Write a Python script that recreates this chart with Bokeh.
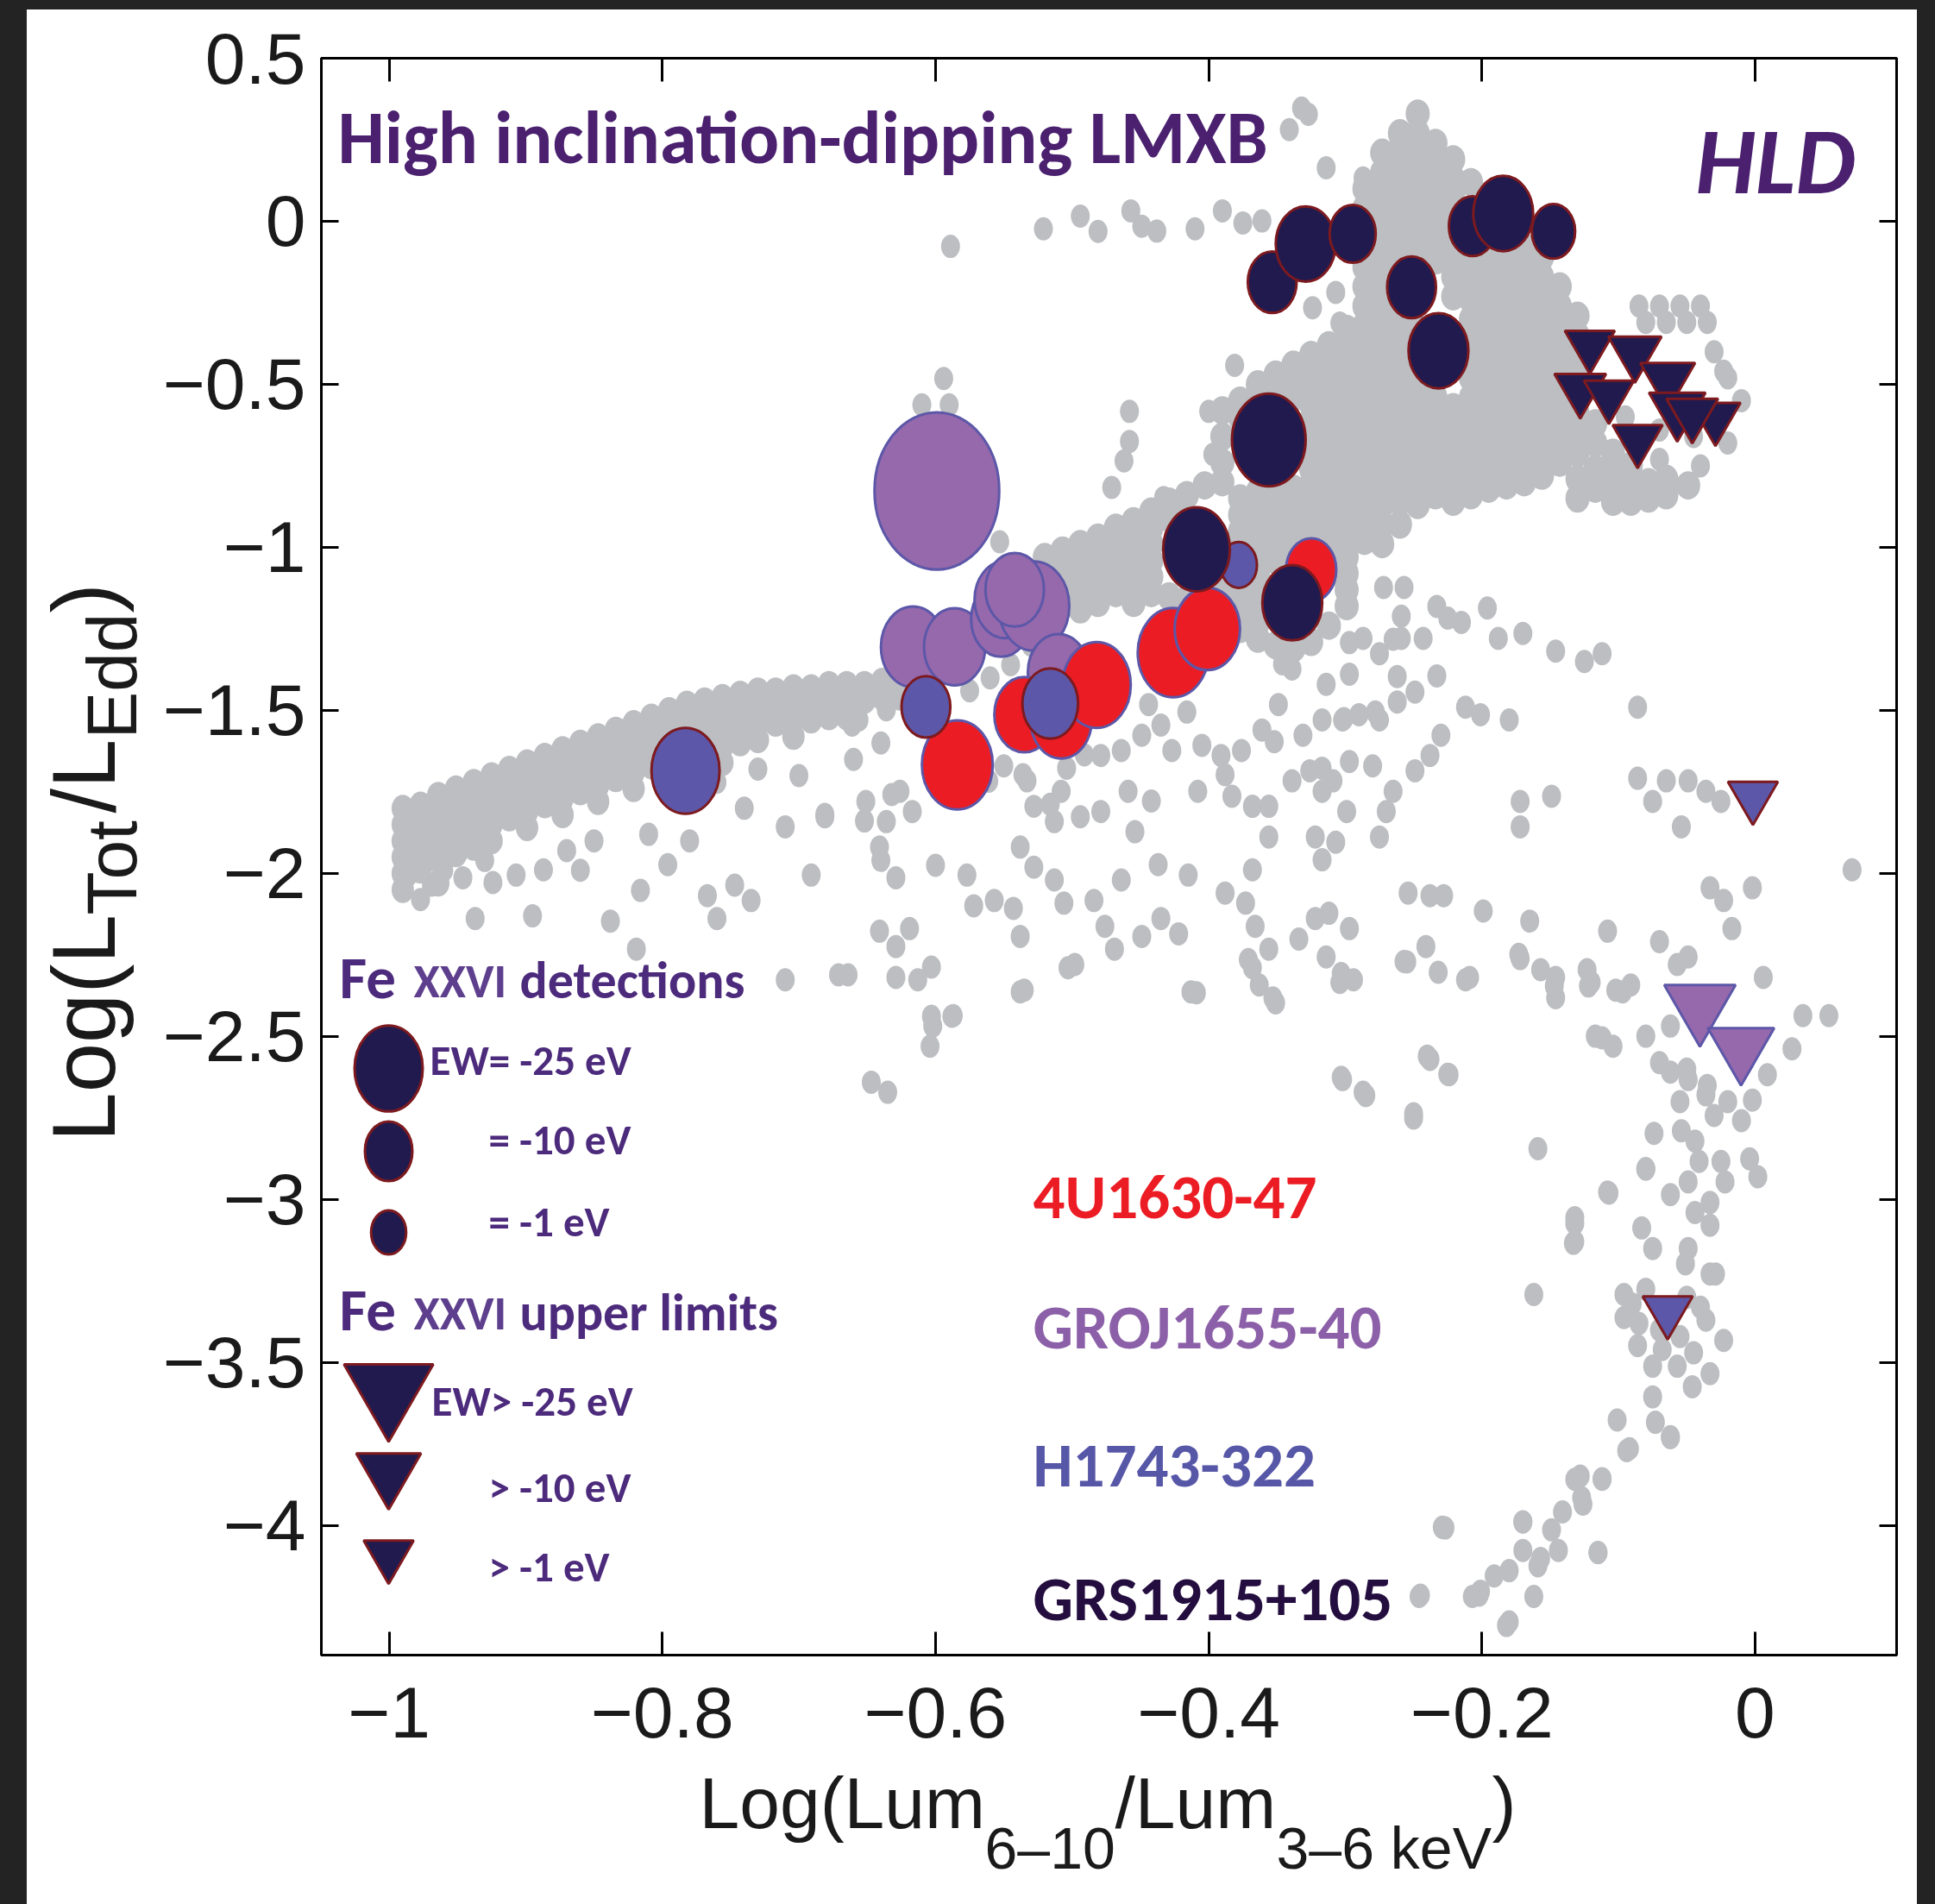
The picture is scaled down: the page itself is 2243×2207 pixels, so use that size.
import math
from bokeh.plotting import figure
from bokeh.models import (Range1d, LinearAxis, FixedTicker, Label, ColumnDataSource,
                          GlobalInlineStyleSheet)
from bokeh.layouts import row, column
from bokeh.embed import file_html
from bokeh.resources import INLINE

# ---------------------------------------------------------------- data
x_ticks = [-1, -0.8, -0.6, -0.4, -0.2, 0]
x_tick_labels = ["\u22121", "\u22120.8", "\u22120.6", "\u22120.4", "\u22120.2", "0"]
y_ticks = [0.5, 0, -0.5, -1, -1.5, -2, -2.5, -3, -3.5, -4]
y_tick_labels = ["0.5", "0", "\u22120.5", "\u22121", "\u22121.5", "\u22122", "\u22122.5",
                 "\u22123", "\u22123.5", "\u22124"]

# Fe XXVI detections (x = Log(Lum6-10/Lum3-6), y = Log(LTot/LEdd), EW in eV)
gro_x = [-0.599, -0.6165, -0.586, -0.552, -0.549, -0.528, -0.542, -0.510]
gro_y = [-0.827, -1.305, -1.305, -1.220, -1.160, -1.180, -1.130, -1.384]
gro_ew = [-66, -22, -20, -19, -20, -27, -18, -20]

u4_x = [-0.584, -0.535, -0.508, -0.482, -0.426, -0.401, -0.325]
u4_y = [-1.667, -1.513, -1.529, -1.422, -1.323, -1.250, -1.069]
u4_ew = [-27, -19, -20, -25, -27, -23, -12]

h17_x = [-0.783, -0.607, -0.516, -0.378]
h17_y = [-1.685, -1.489, -1.479, -1.054]
h17_ew = [-25, -11, -16, -2]

grs_x = [-0.3535, -0.329, -0.2946, -0.2515, -0.2318, -0.2068, -0.1844, -0.1476, -0.356, -0.4089, -0.3388]
grs_y = [-0.1868, -0.0696, -0.0384, -0.2024, -0.397, -0.015, 0.0238, -0.0307, -0.6706, -1.006, -1.170]
grs_ew = [-11, -19, -9, -11, -19, -10, -19, -7, -29, -24, -19]

# Fe XXVI upper limits
grs_ul_x = [-0.121, -0.088, -0.064, -0.128, -0.107, -0.057, -0.029, -0.086, -0.046]
grs_ul_y = [-0.380, -0.401, -0.483, -0.514, -0.533, -0.576, -0.601, -0.669, -0.590]
grs_ul_ew = [-1, -3, -4, -2, -1, -5, -1, -1, -2]

h17_ul_x = [-0.0016, -0.064]
h17_ul_y = [-1.763, -3.341]
h17_ul_ew = [-1, -1]

gro_ul_x = [-0.0404, -0.0103]
gro_ul_y = [-2.405, -2.533]
gro_ul_ew = [-14, -11]

# grey background sample: dense parts as columns (x, [y, ...]), sparse parts as (x, y)
hard_cols = [
    (-0.990, [-1.80, -1.85, -1.90, -1.95, -2.00, -2.05]),
    (-0.977, [-1.79, -1.84, -1.89, -1.94, -1.99]),
    (-0.964, [-1.76, -1.81, -1.86, -1.91, -1.96, -2.03]),
    (-0.951, [-1.74, -1.79, -1.84, -1.89, -1.94]),
    (-0.938, [-1.72, -1.77, -1.82, -1.87, -1.92]),
    (-0.925, [-1.70, -1.75, -1.80, -1.85, -1.90]),
    (-0.912, [-1.68, -1.73, -1.78, -1.83]),
    (-0.899, [-1.66, -1.71, -1.76, -1.81, -1.86]),
    (-0.886, [-1.64, -1.69, -1.74, -1.79]),
    (-0.873, [-1.62, -1.67, -1.72, -1.77, -1.82]),
    (-0.860, [-1.60, -1.65, -1.70, -1.75]),
    (-0.847, [-1.58, -1.63, -1.68, -1.73, -1.78]),
    (-0.834, [-1.56, -1.61, -1.66, -1.71]),
    (-0.821, [-1.54, -1.59, -1.64, -1.69, -1.74]),
    (-0.808, [-1.52, -1.57, -1.62, -1.67]),
    (-0.795, [-1.50, -1.55, -1.60, -1.65, -1.72]),
    (-0.782, [-1.48, -1.53]),
    (-0.769, [-1.47, -1.52, -1.57]),
    (-0.756, [-1.46, -1.51, -1.56, -1.61, -1.66]),
    (-0.743, [-1.45, -1.50, -1.55, -1.60]),
    (-0.730, [-1.44, -1.49, -1.54, -1.59]),
    (-0.717, [-1.44, -1.49, -1.54]),
    (-0.704, [-1.43, -1.48, -1.53, -1.58]),
    (-0.691, [-1.43, -1.48, -1.53]),
    (-0.678, [-1.42, -1.47, -1.52]),
    (-0.665, [-1.42, -1.47, -1.52]),
    (-0.652, [-1.42, -1.47]),
    (-0.639, [-1.41, -1.46]),
    (-0.626, [-1.41, -1.46]),
]

mid_cols = [
    (-0.520, [-1.03, -1.08]),
    (-0.507, [-1.01, -1.06, -1.11, -1.16]),
    (-0.494, [-0.99, -1.04, -1.09, -1.14, -1.19]),
    (-0.481, [-0.97, -1.02, -1.07, -1.12, -1.17]),
    (-0.468, [-0.94, -0.99, -1.04, -1.09, -1.14]),
    (-0.455, [-0.92, -0.97, -1.02, -1.07, -1.12, -1.17]),
    (-0.442, [-0.89, -0.94, -0.99, -1.04, -1.09, -1.14]),
    (-0.429, [-0.86, -0.91, -1.15]),
    (-0.416, [-0.84, -1.16]),
    (-0.403, [-0.81, -1.15, -1.20]),
    (-0.390, [-0.58, -0.66, -0.74, -0.80, -1.13, -1.18, -1.23]),
    (-0.377, [-0.55, -0.60, -0.85, -0.90, -0.95, -1.00, -1.05, -1.10, -1.15, -1.20, -1.25]),
    (-0.364, [-0.50, -0.55, -0.83, -0.88, -0.93, -0.98, -1.03, -1.08, -1.13, -1.18, -1.23, -1.28]),
    (-0.351, [-0.47, -0.52, -0.84, -0.89, -0.94, -0.99, -1.04, -1.30]),
    (-0.338, [-0.44, -0.49, -0.54, -0.82, -0.87, -0.92, -0.97, -1.02, -1.31]),
    (-0.325, [-0.41, -0.46, -0.51, -0.56, -0.61, -0.66, -0.71, -0.76, -0.81, -0.86, -0.91,
              -0.96, -1.01, -1.29]),
    (-0.312, [-0.38, -0.43, -0.48, -0.53, -0.58, -0.63, -0.68, -0.73, -0.78, -0.83, -0.88,
              -0.93, -0.98, -1.03, -1.08, -1.24]),
    (-0.299, [-0.33, -0.38, -0.43, -0.48, -0.53, -0.58, -0.63, -0.68, -0.73, -0.78, -0.83,
              -0.88, -0.93, -0.98, -1.03, -1.08, -1.13, -1.18]),
]

blob_cols = [
    (-0.286, [0.10, 0.04, -0.02, -0.08, -0.14, -0.20, -0.26, -0.32, -0.38, -0.44, -0.50, -0.56,
              -0.62, -0.68, -0.74, -0.80, -0.86, -0.92, -0.98]),
    (-0.273, [0.21, 0.15, 0.09, 0.03, -0.03, -0.09, -0.15, -0.21, -0.27, -0.33, -0.39, -0.45,
              -0.51, -0.57, -0.63, -0.69, -0.75, -0.81, -0.87, -0.93, -0.99]),
    (-0.260, [0.27, 0.22, 0.16, 0.10, 0.04, -0.02, -0.08, -0.14, -0.20, -0.26, -0.32, -0.38,
              -0.44, -0.50, -0.56, -0.62, -0.68, -0.74, -0.80, -0.86, -0.93]),
    (-0.247, [0.33, 0.27, 0.21, 0.15, 0.09, 0.03, -0.03, -0.09, -0.33, -0.39, -0.45, -0.51,
              -0.57, -0.63, -0.69, -0.75, -0.81, -0.87]),
    (-0.234, [0.24, 0.18, 0.12, 0.06, 0.00, -0.06, -0.12, -0.54, -0.60, -0.66, -0.72, -0.78, -0.84]),
    (-0.221, [0.19, 0.13, 0.07, 0.01, -0.05, -0.11, -0.17, -0.23, -0.57, -0.63, -0.69, -0.75,
              -0.81, -0.86]),
    (-0.208, [0.12, -0.12, -0.18, -0.24, -0.30, -0.36, -0.42, -0.48, -0.54, -0.60, -0.66, -0.72,
              -0.78, -0.84]),
    (-0.195, [0.08, -0.10, -0.16, -0.22, -0.28, -0.34, -0.40, -0.46, -0.52, -0.58, -0.64, -0.70,
              -0.76, -0.82]),
    (-0.182, [-0.09, -0.15, -0.21, -0.27, -0.33, -0.39, -0.45, -0.51, -0.57, -0.63, -0.69, -0.75,
              -0.81]),
    (-0.169, [-0.08, -0.14, -0.20, -0.26, -0.32, -0.38, -0.44, -0.50, -0.56, -0.62, -0.68, -0.74,
              -0.80]),
    (-0.156, [-0.11, -0.17, -0.23, -0.29, -0.35, -0.41, -0.47, -0.53, -0.59, -0.65, -0.71, -0.78]),
    (-0.143, [-0.20, -0.26, -0.32, -0.38, -0.44, -0.50, -0.56, -0.62, -0.68, -0.74]),
    (-0.130, [-0.29, -0.35, -0.41, -0.47, -0.53, -0.59, -0.65, -0.71, -0.79, -0.85]),
    (-0.117, [-0.62, -0.68, -0.76, -0.82]),
    (-0.104, [-0.71, -0.77, -0.83, -0.86]),
    (-0.091, [-0.75, -0.81, -0.86]),
    (-0.078, [-0.80, -0.85]),
    (-0.065, [-0.79, -0.84]),
    (-0.049, [-0.81]),
]

gray_sparse = [
    # below the hard band
    (-0.986, -2.005), (-0.969, -2.036), (-0.946, -2.013), (-0.924, -2.028), (-0.907, -2.005),
    (-0.887, -1.989), (-0.937, -2.138), (-0.895, -2.130), (-0.838, -2.146), (-0.816, -2.052),
    (-0.796, -1.973), (-0.767, -2.068), (-0.747, -2.036), (-0.735, -2.083), (-0.760, -2.138),
    (-0.691, -2.005), (-0.710, -2.326), (-0.671, -2.311), (-0.819, -2.232), (-0.960, -1.990),
    (-0.930, -1.960), (-0.870, -1.930), (-0.850, -1.900), (-0.810, -1.880), (-0.780, -1.900),
    (-0.710, -1.857), (-0.681, -1.826), (-0.740, -1.800), (-0.700, -1.700), (-0.660, -1.650),
    (-0.640, -1.600), (-0.860, -1.990), (-0.977, -2.080), (-0.661, -1.545), (-0.632, -1.758),
    (-0.652, -1.839), (-0.681, -1.819), (-0.760, -1.720), (-0.730, -1.680),
    # band edge near the coloured markers
    (-0.600, -1.420), (-0.590, -1.380), (-0.575, -1.440), (-0.560, -1.400), (-0.545, -1.360),
    (-0.530, -1.300), (-0.515, -1.260), (-0.520, -1.120), (-0.508, -1.045), (-0.553, -0.983),
    (-0.540, -1.050),
    # top row and isolated upper points
    (-0.589, -0.077), (-0.521, -0.023), (-0.494, 0.016), (-0.481, -0.031), (-0.457, 0.032),
    (-0.449, -0.015), (-0.438, -0.030), (-0.410, -0.023), (-0.390, 0.032), (-0.361, 0.001),
    (-0.341, 0.281), (-0.327, 0.328), (-0.314, 0.164), (-0.287, 0.133), (-0.332, 0.347),
    (-0.375, -0.005), (-0.594, -0.482), (-0.610, -0.563), (-0.590, -0.563),
    (-0.458, -0.583), (-0.458, -0.675), (-0.462, -0.735), (-0.471, -0.816), (-0.433, -0.847),
    (-0.400, -0.583), (-0.397, -0.715), (-0.381, -0.442), (-0.425, -0.889), (-0.408, -0.952),
    (-0.324, -0.265), (-0.307, -0.218), (-0.304, -0.312),
    (-0.085, -0.26), (-0.070, -0.26), (-0.055, -0.26), (-0.040, -0.26),
    (-0.080, -0.31), (-0.065, -0.31), (-0.050, -0.31), (-0.035, -0.31), (-0.023, -0.46),
    (-0.095, -0.60), (-0.070, -0.64), (-0.045, -0.66), (-0.100, -0.74), (-0.070, -0.73),
    (-0.040, -0.75), (-0.020, -0.68), (-0.020, -0.48), (-0.030, -0.40), (-0.010, -0.55),
    # below the coloured markers
    (-0.656, -1.529), (-0.636, -1.498), (-0.651, -1.779), (-0.636, -1.841), (-0.626, -1.748),
    (-0.617, -1.810), (-0.641, -1.919), (-0.550, -1.670), (-0.533, -1.716), (-0.508, -1.748),
    (-0.528, -1.794), (-0.513, -1.841), (-0.494, -1.826), (-0.479, -1.810), (-0.538, -1.919),
    (-0.459, -1.748), (-0.454, -1.872), (-0.494, -1.560), (-0.479, -1.638), (-0.464, -1.623),
    (-0.449, -1.576), (-0.435, -1.545), (-0.444, -1.482), (-0.427, -1.623), (-0.408, -1.748),
    (-0.405, -1.607), (-0.391, -1.638), (-0.376, -1.623), (-0.361, -1.560), (-0.349, -1.482),
    (-0.346, -1.357), (-0.331, -1.576), (-0.317, -1.529), (-0.302, -1.529), (-0.290, -1.513),
    (-0.297, -1.389), (-0.314, -1.420), (-0.287, -1.279), (-0.383, -1.763), (-0.368, -1.794),
    (-0.356, -1.794), (-0.339, -1.716), (-0.326, -1.685), (-0.317, -1.748), (-0.309, -1.716),
    (-0.299, -1.810), (-0.322, -1.888), (-0.307, -1.904), (-0.356, -1.888),
    (-0.561, -1.717), (-0.536, -1.697), (-0.516, -1.788), (-0.504, -1.677), (-0.491, -1.636),
    (-0.442, -1.778), (-0.416, -1.505), (-0.388, -1.697), (-0.317, -1.677), (-0.297, -1.657),
    (-0.339, -1.373), (-0.297, -1.292), (-0.265, -1.282), (-0.259, -1.211), (-0.233, -1.181),
    (-0.278, -1.505), (-0.262, -1.474), (-0.249, -1.444), (-0.233, -1.394), (-0.352, -1.596),
    (-0.301, -1.525),
    # soft branch on the right
    (-0.272, -1.123), (-0.257, -1.123), (-0.225, -1.217), (-0.215, -1.230), (-0.196, -1.186),
    (-0.259, -1.279), (-0.243, -1.279), (-0.275, -1.326), (-0.262, -1.396), (-0.188, -1.279),
    (-0.170, -1.264), (-0.146, -1.318), (-0.125, -1.350), (-0.112, -1.326), (-0.212, -1.490),
    (-0.201, -1.513), (-0.180, -1.529), (-0.086, -1.490), (-0.275, -1.529), (-0.230, -1.576),
    (-0.238, -1.638), (-0.249, -1.685), (-0.265, -1.748), (-0.270, -1.810), (-0.275, -1.888),
    (-0.280, -1.670), (-0.172, -1.779), (-0.172, -1.857), (-0.149, -1.763), (-0.086, -1.708),
    (-0.075, -1.779), (-0.065, -1.716), (-0.049, -1.716), (-0.036, -1.748), (-0.025, -1.779),
    (-0.054, -1.857),
    (-0.254, -2.060), (-0.238, -2.068), (-0.228, -2.068), (-0.199, -2.115), (-0.165, -2.146),
    (-0.108, -2.177), (-0.070, -2.209), (-0.033, -2.044), (-0.023, -2.083), (-0.002, -2.044),
    (-0.017, -2.169), (0.071, -1.989), (-0.241, -2.224), (-0.255, -2.271), (-0.232, -2.303),
    (-0.209, -2.319), (-0.173, -2.248), (-0.157, -2.295), (-0.146, -2.319), (-0.146, -2.381),
    (-0.123, -2.295), (-0.120, -2.334), (-0.102, -2.358), (-0.091, -2.342), (-0.049, -2.256),
    (-0.057, -2.279), (0.006, -2.319), (0.035, -2.436), (0.054, -2.436), (0.027, -2.538),
    (-0.117, -2.499), (-0.104, -2.530), (-0.080, -2.499), (-0.062, -2.468), (-0.238, -2.570),
    (-0.224, -2.617), (-0.250, -2.750), (-0.062, -2.609), (-0.049, -2.632), (-0.036, -2.679),
    (-0.030, -2.742), (0.009, -2.617), (-0.002, -2.695), (-0.010, -2.758), (-0.074, -2.797),
    (-0.054, -2.789), (-0.044, -2.821), (-0.041, -2.883), (-0.049, -2.946), (-0.062, -2.985),
    (-0.080, -2.907), (-0.025, -2.883), (-0.004, -2.875), (0.002, -2.930), (-0.022, -2.946),
    (-0.033, -3.009), (-0.159, -2.844), (-0.108, -2.977), (-0.132, -3.056), (-0.133, -3.134),
    (-0.044, -3.040), (-0.033, -3.079), (-0.083, -3.087), (-0.075, -3.150), (-0.049, -3.150),
    (-0.033, -3.228), (-0.096, -3.291), (-0.096, -3.362), (-0.086, -3.448), (-0.075, -3.511),
    (-0.075, -3.605), (-0.073, -3.683), (-0.062, -3.730), (-0.057, -3.511), (-0.046, -3.574),
    (-0.033, -3.534), (-0.036, -3.370), (-0.023, -3.432), (-0.029, -3.228), (-0.051, -3.197),
    (-0.080, -3.275), (-0.162, -3.291), (-0.101, -3.676), (-0.094, -3.770), (-0.128, -3.848),
    (-0.112, -3.856), (-0.126, -3.934), (-0.141, -3.958), (-0.149, -4.013), (-0.144, -4.076),
    (-0.170, -3.989), (-0.170, -4.076), (-0.159, -4.123), (-0.180, -4.138), (-0.191, -4.154),
    (-0.201, -4.201), (-0.162, -4.217), (-0.180, -4.295), (-0.115, -4.083), (-0.229, -4.005),
    (-0.246, -4.217), (-0.207, -4.217),
    (-0.303, -2.307), (-0.257, -2.270), (-0.212, -2.326), (-0.285, -2.681), (-0.303, -2.625),
    (-0.240, -2.560), (-0.225, -2.616), (-0.250, -2.737), (-0.172, -2.261), (-0.147, -2.345),
    (-0.122, -2.345), (-0.097, -2.363), (-0.112, -2.504), (-0.107, -2.980), (-0.132, -3.073),
    (-0.132, -3.129), (-0.080, -2.905), (-0.092, -3.764), (-0.062, -3.727), (-0.132, -3.858),
    (-0.112, -3.858), (-0.227, -4.007), (-0.170, -3.988), (-0.157, -4.101), (-0.115, -4.082),
    (-0.245, -4.213), (-0.202, -4.213), (-0.182, -4.306), (-0.127, -3.914),
    (-0.090, -3.320), (-0.085, -3.380), (-0.050, -3.300), (-0.040, -3.330), (-0.070, -3.400),
    (-0.055, -3.420), (-0.068, -3.460), (-0.045, -3.470), (-0.070, -2.580), (-0.050, -2.600),
    (-0.035, -2.650), (-0.055, -2.700), (-0.020, -2.700),
    # lower middle scatter
    (-0.629, -2.013), (-0.577, -2.005), (-0.572, -2.099), (-0.557, -2.083), (-0.543, -2.107),
    (-0.538, -2.193), (-0.528, -1.981), (-0.513, -2.020), (-0.506, -2.091), (-0.498, -2.279),
    (-0.535, -2.358), (-0.641, -2.177), (-0.629, -2.224), (-0.619, -2.169), (-0.629, -2.319),
    (-0.613, -2.326), (-0.603, -2.287), (-0.602, -2.468), (-0.604, -2.530), (-0.587, -2.436),
    (-0.647, -2.640), (-0.635, -2.671), (-0.664, -2.311), (-0.484, -2.083), (-0.476, -2.162),
    (-0.469, -2.232), (-0.464, -2.020), (-0.449, -2.193), (-0.435, -2.138), (-0.422, -2.185),
    (-0.437, -1.973), (-0.415, -2.005), (-0.409, -2.366), (-0.388, -2.060), (-0.373, -2.091),
    (-0.366, -2.162), (-0.356, -2.232), (-0.371, -2.264), (-0.363, -2.342), (-0.351, -2.397),
    (-0.368, -1.989), (-0.334, -2.201), (-0.322, -2.138), (-0.312, -2.122), (-0.297, -2.169),
    (-0.314, -2.256), (-0.304, -2.334), (-0.294, -2.326), (-0.317, -1.958), (-0.302, -2.632),
    (-0.287, -2.671), (-0.603, -2.438), (-0.588, -2.438), (-0.538, -2.363), (-0.503, -2.289),
    (-0.413, -2.363), (-0.368, -2.289), (-0.353, -2.382), (-0.640, -1.960), (-0.600, -1.975),
]

legend_ew = [-25, -10, -1]

# ---------------------------------------------------------------- layout / styles
X0, X1 = -1.0496, 0.1036
Y0, Y1 = -4.397, 0.5
PAGE_L, PAGE_T, PAGE_R = 31, 11, 21     # dark margin of the reference picture
FL, FT, FW, FH = 372, 67, 1826, 1851    # plot frame in page pixels
YLAB_R = 180                            # right edge of the y-title strip
MAIN_B = 2043                           # bottom edge of the main figure
BASE_K = 0.34                           # label anchor -> glyph baseline offset (in em)


def px(xp):  # page pixel -> data x (legend placement)
    return X0 + (xp - FL) / FW * (X1 - X0)


def py(yp):  # page pixel -> data y (legend placement)
    return Y1 - (yp - FT) / FH * (Y1 - Y0)


def circ_w(ew):
    return 39 + 1.6 * abs(ew)


def circ_h(ew):
    return 1.26 * circ_w(ew)


def tri_s(ew):
    return 56 + 1.9 * abs(ew)


def no_align(f):
    try:
        f.frame_align = False
    except Exception:
        pass


SANS = "'Liberation Sans', Arial, sans-serif"
CAL = "Carlito, Lato, sans-serif"

GRAY = "#bcbec1"
NAVY = "#211a4e"
DRED = "#7d1a1f"
BLUE = "#5c57a8"
RED = "#ec1c24"
PURP = "#9669ac"
TXT_P = "#4a206f"
LEG = "#4c2a7c"
AX = "#1a1a1a"

main_w = 2243 - PAGE_R - YLAB_R
main_h = MAIN_B - PAGE_T
p = figure(width=main_w, height=main_h, x_range=Range1d(X0, X1), y_range=Range1d(Y0, Y1),
           output_backend="svg", toolbar_location=None,
           x_axis_location=None, y_axis_location=None,
           min_border_left=FL - YLAB_R, min_border_right=main_w - (FL - YLAB_R) - FW,
           min_border_top=FT - PAGE_T, min_border_bottom=main_h - (FT - PAGE_T) - FH)
no_align(p)
p.xgrid.grid_line_color = None
p.ygrid.grid_line_color = None
p.outline_line_color = "black"
p.outline_line_width = 3
p.background_fill_color = "white"
p.border_fill_color = "white"


def make_axis(side, ticks, labels):
    ax = LinearAxis(ticker=FixedTicker(ticks=ticks))
    ax.axis_line_color = "black"
    ax.axis_line_width = 3
    ax.major_tick_line_color = "black"
    ax.major_tick_line_width = 3
    ax.major_tick_out = 0
    ax.major_tick_in = 27 if side in ("below", "above") else 20
    ax.minor_tick_line_color = None
    if labels is None:
        ax.major_label_overrides = {t: "" for t in ticks}
        ax.major_label_text_font_size = "2px"
        ax.major_label_standoff = 0
    else:
        ax.major_label_overrides = {t: l for t, l in zip(ticks, labels)}
        ax.major_label_text_font = SANS
        ax.major_label_text_font_size = "84px"
        ax.major_label_text_color = AX
        ax.major_label_standoff = 37 if side == "below" else 18
    p.add_layout(ax, side)


make_axis("below", x_ticks, x_tick_labels)
make_axis("above", x_ticks, None)
make_axis("left", y_ticks, y_tick_labels)
make_axis("right", y_ticks, None)

# grey cloud: sparse dots, then the dense branches (drawn a little fuller)
p.ellipse(x=[a for a, b in gray_sparse], y=[b for a, b in gray_sparse], width=22, height=27,
          width_units="screen", height_units="screen", fill_color=GRAY, line_color=None)
for cols, w, h in ((hard_cols, 26, 31), (mid_cols, 28, 33), (blob_cols, 28, 33)):
    cx = [c for c, ys in cols for _ in ys]
    cy = [y for c, ys in cols for y in ys]
    p.ellipse(x=cx, y=cy, width=w, height=h, width_units="screen", height_units="screen",
              fill_color=GRAY, line_color=None)


def det(xs, ys, ews, fill, edge):
    src = ColumnDataSource(dict(x=xs, y=ys, w=[circ_w(e) for e in ews], h=[circ_h(e) for e in ews]))
    p.ellipse(x="x", y="y", width="w", height="h", width_units="screen", height_units="screen",
              source=src, fill_color=fill, line_color=edge, line_width=3)


def ul(xs, ys, ews, fill, edge):
    src = ColumnDataSource(dict(x=xs, y=ys, s=[tri_s(e) for e in ews]))
    p.scatter(x="x", y="y", size="s", marker="inverted_triangle", source=src,
              fill_color=fill, line_color=edge, line_width=3)


det(gro_x, gro_y, gro_ew, PURP, BLUE)
det(u4_x, u4_y, u4_ew, RED, BLUE)
det(h17_x, h17_y, h17_ew, BLUE, DRED)
det(grs_x, grs_y, grs_ew, NAVY, DRED)
ul(gro_ul_x, gro_ul_y, gro_ul_ew, PURP, BLUE)
ul(h17_ul_x, h17_ul_y, h17_ul_ew, BLUE, DRED)
ul(grs_ul_x, grs_ul_y, grs_ul_ew, NAVY, DRED)

# legend symbols
leg_cx = px(450)
det([leg_cx] * 3, [py(1238), py(1334), py(1428)], legend_ew, NAVY, DRED)
ul([leg_cx] * 3, [py(1611), py(1706), py(1802)], legend_ew, NAVY, DRED)


def txt(fig, text, x, y, size, color, font=CAL, style="bold", align="left", angle=0.0):
    fig.add_layout(Label(x=x, y=y, text=text, text_font=font, text_font_size=f"{size}px",
                         text_color=color, text_font_style=style, text_align=align,
                         text_baseline="alphabetic", angle=angle))


def ptxt(text, xp, yp, size, color, **kw):
    # xp, yp: wanted left (or right) end and glyph baseline, in page pixels
    txt(p, text, px(xp), py(yp - BASE_K * size), size, color, **kw)


ptxt("High inclination-dipping LMXB", 391, 188, 86, TXT_P)
ptxt("HLD", 2150, 223, 110, TXT_P, style="bold italic", align="right")

ptxt("4U1630-47", 1197, 1411, 73, "#ec1c24")
ptxt("GROJ1655-40", 1197, 1562, 73, "#8c60a8")
ptxt("H1743-322", 1197, 1722, 73, "#5757a8")
ptxt("GRS1915+105", 1197, 1877, 73, "#240d3f")

for yb, word in ((1156, "detections"), (1541, "upper limits")):
    ptxt("Fe", 393, yb, 69, LEG)
    ptxt("XXVI", 479, yb, 55, "#5e3f8e")
    ptxt(word, 602, yb, 60, LEG)

ptxt("EW= -25 eV", 498, 1245, 49, LEG)
ptxt("= -10 eV", 566, 1337, 49, LEG)
ptxt("= -1 eV", 566, 1432, 49, LEG)
ptxt("EW> -25 eV", 500, 1640, 49, LEG)
ptxt("> -10 eV", 566, 1740, 49, LEG)
ptxt("> -1 eV", 566, 1832, 49, LEG)


# ---------------------------------------------------------------- axis titles (own strips)
def strip(w, h, x_lo, x_hi, y_top, y_bot):
    f = figure(width=w, height=h, x_range=Range1d(x_lo, x_hi), y_range=Range1d(y_bot, y_top),
               output_backend="svg", toolbar_location=None,
               x_axis_location=None, y_axis_location=None, min_border=0,
               min_border_left=0, min_border_right=0, min_border_top=0, min_border_bottom=0)
    no_align(f)
    f.xgrid.grid_line_color = None
    f.ygrid.grid_line_color = None
    f.outline_line_color = None
    f.background_fill_color = "white"
    f.border_fill_color = "white"
    return f


ylab = strip(YLAB_R - PAGE_L, 2207 - PAGE_T, PAGE_L, YLAB_R, PAGE_T, 2207)
xlab = strip(main_w, 2207 - MAIN_B, YLAB_R, 2243 - PAGE_R, MAIN_B, 2207)


def ytitle(text, xb, ys, size):
    # vertical text: xb = wanted baseline (page px), ys = start (bottom) of the text
    txt(ylab, text, xb - BASE_K * size, ys, size, AX, font=SANS, style="normal", angle=math.pi / 2)


def xtitle(text, xs, yb, size):
    txt(xlab, text, xs, yb - BASE_K * size, size, AX, font=SANS, style="normal")


ytitle("Log(L", 132, 1323, 103)
ytitle("Tot", 157, 1060, 82)
ytitle("/L", 132, 942, 103)
ytitle("Edd", 157, 856, 82)
ytitle(")", 132, 710, 103)

xtitle("Log(Lum", 810, 2118, 84)
xtitle("6\u201310", 1141, 2165, 68)
xtitle("/Lum", 1292, 2118, 84)
xtitle("3\u20136 keV", 1479, 2165, 68)
xtitle(")", 1729, 2118, 84)

page_css = GlobalInlineStyleSheet(css=(
    "html { background-color: #ffffff; }"
    "body { margin: 0 !important; padding: 0 !important; background-color: #ffffff;"
    " border-top: 11px solid #232323; border-left: 31px solid #232323;"
    " border-right: 21px solid #232323; }"
))
page = row(ylab, column(p, xlab), stylesheets=[page_css])

open("out.html", "w").write(file_html(page, INLINE))
